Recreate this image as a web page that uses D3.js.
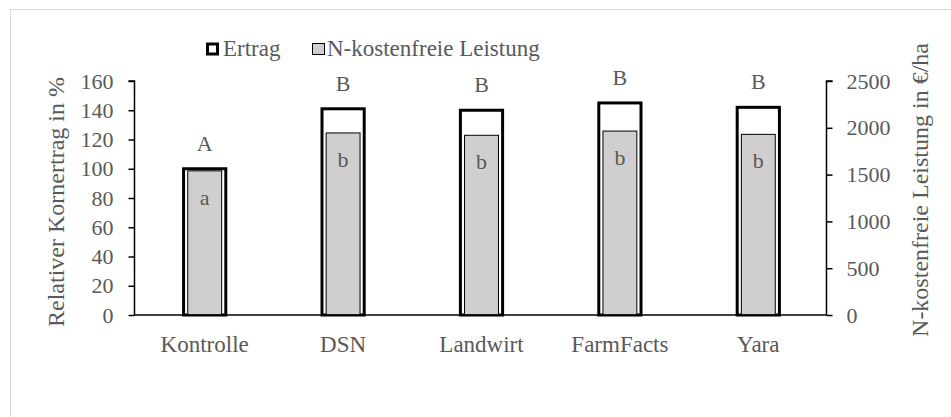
<!DOCTYPE html>
<html>
<head>
<meta charset="utf-8">
<script src="https://cdn.jsdelivr.net/npm/d3@7"></script>
<style>
  body { margin: 0; background: #fff; }
  svg text { font-family: "Liberation Serif", "Times New Roman", serif !important; fill: #595959; }
</style>
</head>
<body>
<div id="my_dataviz"></div>
<script>
// data
var categories = ["Kontrolle", "DSN", "Landwirt", "FarmFacts", "Yara"];
var ertrag = [100, 141, 140, 145, 142];          // Relativer Kornertrag in %
var leistung = [1540, 1945, 1920, 1965, 1930];   // N-kostenfreie Leistung in €/ha
var ertragLetters = ["A", "B", "B", "B", "B"];
var leistungLetters = ["a", "b", "b", "b", "b"];
var leftTicks = [0, 20, 40, 60, 80, 100, 120, 140, 160];
var rightTicks = [0, 500, 1000, 1500, 2000, 2500];

var serif = '"Liberation Serif", "Times New Roman", serif';

function drawChart() {
  var width = 951,
    height = 417;
  var plot = { left: 134.5, right: 826.5, top: 81, bottom: 315 };

  var svg = d3
    .select("#my_dataviz")
    .append("svg")
    .attr("width", width)
    .attr("height", height)
    .attr("font-family", serif);

  // light frame of the chart area
  svg
    .append("rect")
    .attr("x", 10.5)
    .attr("y", 9.5)
    .attr("width", 960)
    .attr("height", 430)
    .attr("fill", "#fff")
    .attr("stroke", "#d9d9d9")
    .attr("stroke-width", 1);

  var data = categories.map(function (c, i) {
    return {
      cat: c,
      ertrag: ertrag[i],
      leistung: leistung[i],
      upper: ertragLetters[i],
      lower: leistungLetters[i]
    };
  });

  // X scale
  var x = d3
    .scaleBand()
    .domain(categories)
    .range([plot.left, plot.right]);

  // Y scales (left: %, right: €/ha)
  var y = d3
    .scaleLinear()
    .domain([0, 160])
    .range([plot.bottom, plot.top]);

  var y2 = d3
    .scaleLinear()
    .domain([0, 2500])
    .range([plot.bottom, plot.top]);

  var mid = function (d) {
    return x(d.cat) + x.bandwidth() / 2 + 1;
  };

  // Ertrag bars (outline only)
  var outerW = x.bandwidth() * 0.305;
  svg
    .selectAll(".ertrag")
    .data(data)
    .enter()
    .append("rect")
    .attr("class", "ertrag")
    .attr("x", function (d) { return mid(d) - outerW / 2; })
    .attr("y", function (d) { return y(d.ertrag); })
    .attr("width", outerW)
    .attr("height", function (d) { return y(0) - y(d.ertrag); })
    .attr("fill", "#fff")
    .attr("stroke", "#000")
    .attr("stroke-width", 3);

  // N-kostenfreie Leistung bars
  var innerW = x.bandwidth() * 0.245;
  svg
    .selectAll(".leistung")
    .data(data)
    .enter()
    .append("rect")
    .attr("class", "leistung")
    .attr("x", function (d) { return mid(d) - innerW / 2; })
    .attr("y", function (d) { return y2(d.leistung); })
    .attr("width", innerW)
    .attr("height", function (d) { return y2(0) - y2(d.leistung); })
    .attr("fill", "#d0cece")
    .attr("stroke", "#000")
    .attr("stroke-width", 1);

  // Add X axis line
  svg
    .append("line")
    .attr("x1", plot.left)
    .attr("x2", plot.right)
    .attr("y1", plot.bottom)
    .attr("y2", plot.bottom)
    .attr("stroke", "#000")
    .attr("stroke-width", 1.5);

  // Left Y axis
  var leftAxis = svg
    .append("g")
    .attr("transform", "translate(" + plot.left + ",0)")
    .call(d3.axisLeft(y).tickValues(leftTicks).tickFormat(d3.format("d")).tickSize(6).tickPadding(15));
  leftAxis.attr("font-family", serif).attr("font-size", 22);
  leftAxis.select(".domain").attr("stroke", "#000").attr("stroke-width", 1.5).attr("d", "M-6," + plot.top + "H0V" + plot.bottom);
  leftAxis.selectAll(".tick line").attr("stroke", "#000").attr("stroke-width", 1.5);

  // Right Y axis
  var rightAxis = svg
    .append("g")
    .attr("transform", "translate(" + plot.right + ",0)")
    .call(d3.axisRight(y2).tickValues(rightTicks).tickFormat(d3.format("d")).tickSize(6).tickPadding(14));
  rightAxis.attr("font-family", serif).attr("font-size", 22);
  rightAxis.select(".domain").attr("stroke", "#000").attr("stroke-width", 1.5).attr("d", "M6," + plot.top + "H0V" + plot.bottom);
  rightAxis.selectAll(".tick line").attr("stroke", "#000").attr("stroke-width", 1.5);

  // category labels
  svg
    .selectAll(".cat-label")
    .data(data)
    .enter()
    .append("text")
    .attr("class", "cat-label")
    .attr("x", mid)
    .attr("y", 352)
    .attr("text-anchor", "middle")
    .attr("font-size", 23)
    .text(function (d) { return d.cat; });

  // significance letters above Ertrag bars
  svg
    .selectAll(".upper")
    .data(data)
    .enter()
    .append("text")
    .attr("class", "upper")
    .attr("x", mid)
    .attr("y", function (d) { return y(d.ertrag) - 18; })
    .attr("text-anchor", "middle")
    .attr("font-size", 22)
    .text(function (d) { return d.upper; });

  // significance letters inside Leistung bars
  svg
    .selectAll(".lower")
    .data(data)
    .enter()
    .append("text")
    .attr("class", "lower")
    .attr("x", mid)
    .attr("y", function (d) { return y2(d.leistung) + 34; })
    .attr("text-anchor", "middle")
    .attr("font-size", 22)
    .text(function (d) { return d.lower; });

  // Add Y axis labels
  svg
    .append("text")
    .attr("transform", "translate(64,202) rotate(-90)")
    .attr("text-anchor", "middle")
    .attr("font-size", 24)
    .text("Relativer Kornertrag in %");

  svg
    .append("text")
    .attr("transform", "translate(928,190) rotate(-90)")
    .attr("text-anchor", "middle")
    .attr("font-size", 24)
    .text("N-kostenfreie Leistung in €/ha");

  // legend
  var legend = svg.append("g");
  legend
    .append("rect")
    .attr("x", 207.5)
    .attr("y", 44)
    .attr("width", 10)
    .attr("height", 10)
    .attr("fill", "#fff")
    .attr("stroke", "#000")
    .attr("stroke-width", 3);
  legend
    .append("text")
    .attr("x", 223)
    .attr("y", 56)
    .attr("font-size", 23)
    .text("Ertrag");
  legend
    .append("rect")
    .attr("x", 312.5)
    .attr("y", 43.5)
    .attr("width", 12)
    .attr("height", 11)
    .attr("fill", "#d0cece")
    .attr("stroke", "#000")
    .attr("stroke-width", 1);
  legend
    .append("text")
    .attr("x", 327)
    .attr("y", 56)
    .attr("font-size", 23)
    .text("N-kostenfreie Leistung");
}

drawChart();
</script>
</body>
</html>
